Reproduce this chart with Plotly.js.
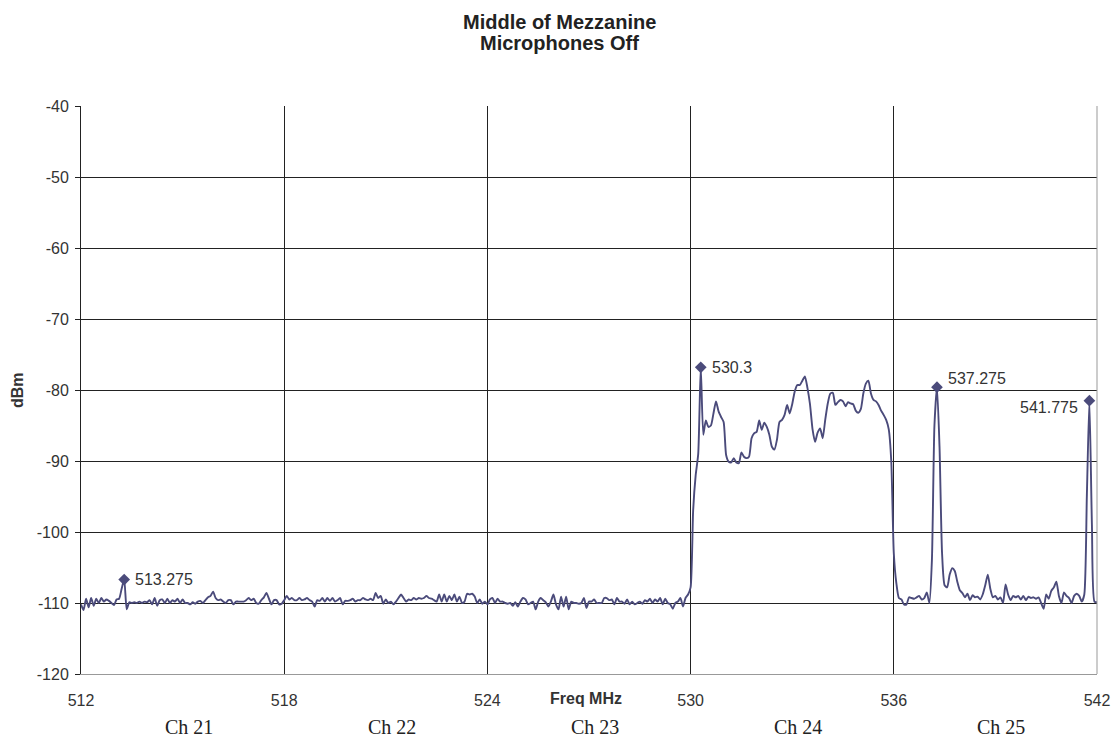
<!DOCTYPE html>
<html>
<head>
<meta charset="utf-8">
<script src="https://cdn.plot.ly/plotly-3.0.1.min.js"></script>
<style>
  html, body { margin: 0; padding: 0; background: #fff; }
  #chart { width: 1117px; height: 740px; }
</style>
</head>
<body>
<div id="chart"></div>
<script>
// sweep: 512 .. 542 MHz, 401 points (0.075 MHz apart)
const sweepStart = 512;
const sweepStep = 0.075;

// measured level, dBm, one value per sweep point
const levelDbm = [
  -110.2, -111.0, -109.4, -110.6, -109.3, -110.4, -109.4, -110.0, -109.3, -109.8,
  -109.5, -109.7, -110.0, -110.3, -109.5, -109.4, -108.0, -106.7, -110.9, -109.9,
  -110.0, -109.9, -110.0, -109.8, -110.0, -109.8, -109.9, -109.6, -110.2, -109.3,
  -110.4, -109.6, -109.5, -110.0, -109.4, -110.0, -109.6, -109.8, -109.4, -110.0,
  -109.5, -110.0, -110.0, -110.2, -109.9, -110.1, -109.8, -109.7, -110.0, -109.6,
  -109.2, -109.0, -108.4, -109.3, -109.6, -109.5, -109.8, -110.0, -109.6, -109.6,
  -110.2, -109.8, -109.8, -109.8, -109.8, -109.6, -109.3, -109.6, -109.4, -110.0,
  -110.1, -109.6, -109.2, -108.6, -109.4, -110.2, -109.6, -109.6, -110.2, -110.1,
  -109.6, -109.0, -109.5, -109.3, -109.6, -109.6, -109.3, -109.6, -109.5, -109.3,
  -109.6, -109.8, -110.5, -109.6, -109.7, -109.3, -109.8, -109.3, -109.7, -109.3,
  -109.8, -109.6, -109.3, -110.2, -109.7, -109.7, -109.6, -109.4, -109.8, -109.6,
  -109.6, -109.3, -109.5, -109.6, -109.4, -109.6, -108.6, -109.3, -109.0, -110.1,
  -109.5, -110.0, -109.8, -110.2, -109.8, -109.3, -108.8, -109.3, -109.8, -109.5,
  -109.6, -109.3, -109.5, -109.3, -109.4, -109.3, -109.0, -109.3, -109.4, -109.6,
  -109.8, -108.8, -109.8, -108.8, -109.8, -109.0, -109.6, -108.8, -109.8, -109.1,
  -110.0, -109.8, -108.7, -108.8, -108.7, -109.1, -110.0, -109.5, -110.1, -109.8,
  -110.2, -109.5, -109.3, -110.0, -109.4, -109.8, -109.8, -110.0, -110.1, -110.0,
  -110.4, -109.9, -110.5, -109.8, -109.3, -109.5, -110.2, -110.0, -109.8, -110.9,
  -109.8, -109.3, -109.6, -109.9, -110.5, -109.8, -108.8, -110.2, -110.9, -109.1,
  -110.5, -109.1, -110.9, -109.8, -110.0, -110.0, -110.1, -110.0, -109.3, -110.7,
  -109.8, -109.8, -109.5, -110.0, -110.0, -110.0, -109.3, -109.3, -109.6, -109.5,
  -110.2, -109.3, -109.8, -109.8, -110.1, -109.5, -110.2, -109.8, -110.2, -110.0,
  -109.8, -110.1, -109.6, -109.8, -109.4, -110.0, -109.5, -109.8, -109.3, -110.2,
  -109.4, -110.0, -110.2, -110.8, -110.0, -109.8, -109.3, -110.5, -109.3, -108.8,
  -107.8, -97.0, -92.0, -89.0, -76.8, -86.3, -84.3, -85.2, -85.0, -83.3,
  -81.6, -83.0, -83.8, -84.5, -89.2, -90.1, -90.2, -89.6, -90.2, -90.3,
  -88.8, -89.4, -89.6, -89.4, -86.8, -86.1, -85.9, -84.3, -85.6, -84.6,
  -85.2, -86.3, -88.0, -88.4, -87.0, -84.5, -84.2, -83.5, -82.1, -83.3,
  -82.0, -80.2, -79.3, -79.3, -78.7, -78.1, -79.7, -82.0, -85.5, -87.3,
  -86.0, -85.4, -86.8, -84.2, -81.9, -80.5, -80.4, -82.1, -81.7, -81.4,
  -81.6, -82.3, -81.7, -81.9, -82.0, -82.9, -83.2, -82.7, -80.5, -79.1,
  -78.7, -80.5, -81.4, -81.6, -82.1, -82.9, -83.5, -84.2, -85.5, -90.0,
  -103.0, -107.2, -109.3, -109.5, -110.2, -110.2, -109.2, -109.3, -109.4, -109.2,
  -109.0, -109.5, -109.3, -108.5, -110.0, -104.0, -85.0, -79.6, -88.0, -103.0,
  -107.5, -107.8, -106.0, -105.1, -105.5, -107.0, -108.2, -108.6, -109.2, -108.7,
  -109.6, -108.9, -109.2, -109.1, -109.5, -108.8, -107.5, -106.0, -108.0, -109.2,
  -109.0, -109.5, -109.2, -110.0, -107.4, -108.8, -109.6, -109.0, -109.2, -109.0,
  -109.5, -109.0, -109.6, -109.1, -109.3, -109.2, -109.4, -109.2, -110.0, -110.8,
  -108.8, -109.4, -108.3, -107.8, -107.0, -109.0, -110.0, -108.5, -109.0, -109.3,
  -110.0, -109.0, -108.7, -109.0, -109.8, -108.8, -95.0, -81.5, -99.0, -109.8,
  -109.9
];

// marked carriers
const peakFreq = [513.275, 530.3, 537.275, 541.775];
const peakDbm = [-106.7, -76.8, -79.6, -81.5];
const peakLabels = ['513.275', '530.3', '537.275', '541.775'];

// TV channels under the axis
const channelCenter = [515, 521, 527, 533, 539];
const channelNames = ['Ch 21', 'Ch 22', 'Ch 23', 'Ch 24', 'Ch 25'];

const freqTicks = [512, 518, 524, 530, 536, 542];
const dbmTicks = [-120, -110, -100, -90, -80, -70, -60, -50, -40];

const titleLines = ['Middle of Mezzanine', 'Microphones Off'];

const lineColor = '#4b4b7b';
const sans = 'Arial, "Liberation Sans", sans-serif';
const serif = '"Times New Roman", "Liberation Serif", serif';

const traces = [
  {
    type: 'scatter',
    mode: 'lines',
    x0: sweepStart,
    dx: sweepStep,
    y: levelDbm,
    // the original plot uses a smoothed line
    line: { color: lineColor, width: 1.9, shape: 'spline', smoothing: 0.6 },
    hoverinfo: 'x+y'
  },
  {
    type: 'scatter',
    mode: 'markers',
    x: peakFreq,
    y: peakDbm,
    marker: { symbol: 'diamond', size: 9, color: lineColor },
    hoverinfo: 'x+y'
  }
];

// label placement per peak (left/right of the diamond)
const labelSide = ['right', 'right', 'right', 'left'];
const labelLift = [0, 0, 9, -7];

const annotations = [];
peakFreq.forEach((f, i) => {
  annotations.push({
    x: f, y: peakDbm[i], xref: 'x', yref: 'y',
    text: peakLabels[i], showarrow: false,
    xanchor: labelSide[i] === 'right' ? 'left' : 'right',
    yanchor: 'middle',
    xshift: labelSide[i] === 'right' ? 9 : -9,
    yshift: labelLift[i],
    font: { family: sans, size: 16, color: '#333' }
  });
});

channelCenter.forEach((c, i) => {
  annotations.push({
    x: c, y: 0, xref: 'x', yref: 'paper',
    text: channelNames[i], showarrow: false,
    xanchor: 'center', yanchor: 'middle',
    xshift: 6, yshift: -53,
    font: { family: serif, size: 20, color: '#222' }
  });
});

// title, two tight lines above the plot
titleLines.forEach((t, i) => {
  annotations.push({
    x: 0.5, y: 1, xref: 'paper', yref: 'paper',
    text: '<b>' + t + '</b>', showarrow: false,
    xanchor: 'center', yanchor: 'middle',
    xshift: -30, yshift: i === 0 ? 84 : 63,
    font: { family: sans, size: 20, color: '#222' }
  });
});

// axis titles sit in odd spots, so they are annotations
annotations.push({
  x: 0.5, y: 0, xref: 'paper', yref: 'paper',
  text: '<b>Freq MHz</b>', showarrow: false,
  xanchor: 'center', yanchor: 'middle', xshift: -3, yshift: -24,
  font: { family: sans, size: 16, color: '#333' }
});
annotations.push({
  x: 0, y: 0.5, xref: 'paper', yref: 'paper',
  text: '<b>dBm</b>', showarrow: false, textangle: -90,
  xanchor: 'center', yanchor: 'middle', xshift: -64,
  font: { family: sans, size: 16, color: '#333' }
});

const layout = {
  width: 1117,
  height: 740,
  margin: { l: 81, r: 20, t: 106, b: 66 },
  paper_bgcolor: '#fff',
  plot_bgcolor: '#fff',
  showlegend: false,
  xaxis: {
    range: [512, 542],
    tickvals: freqTicks,
    ticktext: freqTicks.map(String),
    ticks: '',
    ticklabelstandoff: 12,
    showgrid: true, gridcolor: '#222', gridwidth: 1,
    showline: true, linecolor: '#999', linewidth: 1,
    zeroline: false,
    tickfont: { family: sans, size: 16, color: '#333' }
  },
  yaxis: {
    range: [-120, -40],
    tickvals: dbmTicks,
    ticktext: dbmTicks.map(String),
    ticks: 'outside', ticklen: 5, tickcolor: '#222',
    ticklabelstandoff: 3,
    showgrid: true, gridcolor: '#222', gridwidth: 1,
    showline: true, linecolor: '#222', linewidth: 1,
    zeroline: false,
    tickfont: { family: sans, size: 16, color: '#333' }
  },
  shapes: [
    { type: 'line', xref: 'paper', yref: 'paper', x0: 1, x1: 1, y0: 0, y1: 1,
      line: { color: '#999', width: 1 }, layer: 'above' }
  ],
  annotations: annotations
};

Plotly.newPlot('chart', traces, layout, { displayModeBar: false, staticPlot: true });
</script>
</body>
</html>
